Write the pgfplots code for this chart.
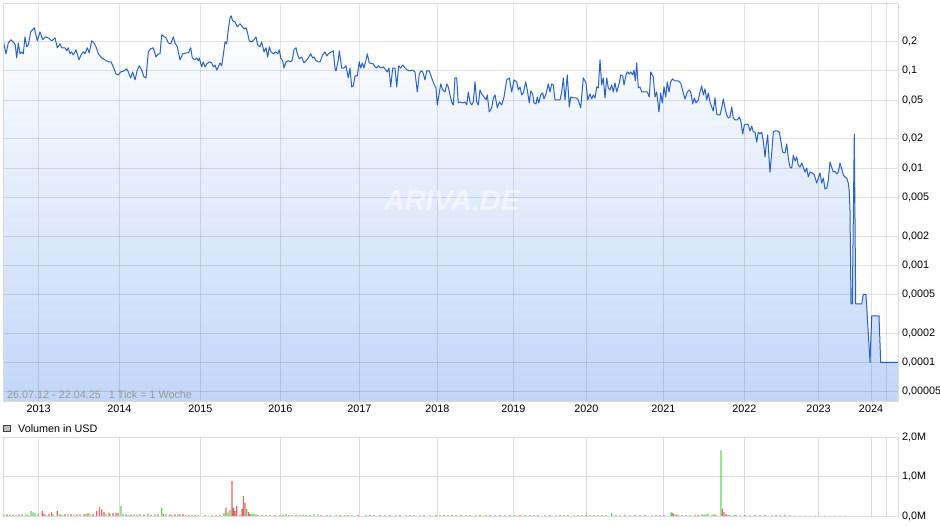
\documentclass[border=0pt]{standalone}
\usepackage{fontspec}
\setmainfont{Liberation Sans}
\usepackage{pgfplots}
\pgfplotsset{compat=1.18}
\usepackage{pgfplotstable}

\definecolor{linec}{HTML}{2A62C6}
\definecolor{fillb}{HTML}{BDD3F7}
\definecolor{gridc}{HTML}{DCDCDC}
\definecolor{volg}{HTML}{5FD35F}
\definecolor{volr}{HTML}{E06666}

\pgfplotstableread{
x y
2.7 0.219
6 0.150
8.3 0.194
11 0.209
14 0.194
15.3 0.185
16.7 0.136
18.3 0.194
20 0.150
21.7 0.157
23.3 0.150
25 0.224
26.7 0.177
28.3 0.185
30.7 0.252
33.3 0.271
34.3 0.2775
37.3 0.204
40 0.252
42.7 0.209
45 0.224
48.3 0.219
51.7 0.204
55 0.219
57.3 0.173
60 0.190
61.7 0.173
65 0.173
66.7 0.161
68.3 0.173
70 0.150
71.7 0.157
73.3 0.146
76 0.165
79 0.130
81 0.146
83.3 0.157
85 0.150
87.3 0.173
89.3 0.153
91.7 0.204
94 0.194
96 0.177
98.3 0.150
101.7 0.136
105 0.130
108.3 0.124
111 0.124
113.3 0.110
116 0.0931
118.3 0.0909
120.7 0.0976
124 0.100
126.7 0.105
128.3 0.0976
130.7 0.0847
132.7 0.0976
135 0.0808
137.3 0.102
139.3 0.113
141.7 0.102
144 0.0867
146 0.0847
148.3 0.157
150.7 0.169
153.3 0.173
156 0.139
158.3 0.150
160 0.150
161.7 0.235
163.3 0.2295
166 0.219
168.3 0.194
170.7 0.190
173.3 0.224
175 0.194
177.3 0.177
180 0.130
182.7 0.150
186 0.153
188.3 0.153
190.7 0.173
192.3 0.136
195 0.130
196.7 0.136
198.3 0.127
199.3 0.136
201.7 0.110
203.3 0.124
205 0.110
206.7 0.118
209.3 0.124
211.7 0.121
213.3 0.110
215 0.115
216.7 0.102
218.3 0.110
220 0.121
221.7 0.113
223.3 0.146
225 0.199
226.7 0.190
228.3 0.265
230 0.352
231 0.369
232.7 0.328
235 0.320
237.3 0.284
240 0.305
241.7 0.291
244 0.271
246 0.2775
247.3 0.252
249.3 0.204
251.7 0.199
254 0.209
256 0.224
257.7 0.185
260 0.177
261.7 0.199
264 0.157
266 0.173
267.7 0.139
269.3 0.177
271 0.157
273.3 0.150
275.7 0.157
277.7 0.150
279.3 0.165
280.7 0.136
282.7 0.127
284 0.107
286 0.124
288.3 0.127
290.7 0.124
292.3 0.130
294 0.165
296 0.173
297.3 0.150
299.3 0.133
301.7 0.139
304 0.121
306 0.127
308.3 0.136
310.7 0.150
312.7 0.136
314 0.139
316 0.127
318.3 0.124
320 0.124
322.7 0.146
325 0.157
326.7 0.143
329.3 0.153
331.7 0.157
333.3 0.161
335 0.107
336 0.100
338.3 0.130
339.3 0.161
341.7 0.107
344 0.107
346 0.113
348.3 0.0847
350 0.107
351.7 0.0684
353.3 0.0700
355 0.0888
357.3 0.0888
359.3 0.124
360.7 0.107
362.3 0.121
364 0.107
366 0.130
367.3 0.150
369.3 0.121
373.3 0.118
375 0.110
376.7 0.107
378.3 0.113
380.7 0.107
383.3 0.110
385 0.105
387.3 0.0976
389 0.107
390.7 0.0684
392.7 0.107
395 0.107
396.7 0.0684
398.7 0.113
400.7 0.107
402.7 0.115
405 0.107
407.3 0.102
410 0.100
412.7 0.102
415 0.0976
417.3 0.0607
419.3 0.0931
421 0.100
422.7 0.0976
425 0.0808
426.7 0.100
429.3 0.100
431.7 0.0847
434 0.0734
436 0.0668
437.3 0.0446
439.3 0.0593
440.7 0.0734
442.7 0.0637
445 0.0607
446.7 0.0734
448.3 0.0684
450 0.0566
451.7 0.0479
453.3 0.0446
455 0.0847
456.7 0.0847
458.3 0.0468
460 0.0479
462.7 0.0468
465 0.0479
466.7 0.0446
468.3 0.0607
470 0.0479
471.7 0.0446
473.3 0.0479
475 0.0770
476.7 0.0479
478.3 0.0446
480 0.0637
481.7 0.0579
484 0.0539
486 0.0502
487.3 0.0566
489.3 0.0378
491.7 0.0416
493.3 0.0527
495 0.0566
497.3 0.0416
499.3 0.0479
501.7 0.0446
504 0.0539
506.7 0.0808
509.3 0.0847
511.7 0.0607
514 0.0808
516.7 0.0770
518.3 0.0637
520 0.0684
521.7 0.0566
523.3 0.0593
525.7 0.0770
527.3 0.0637
529.3 0.0468
530.7 0.0622
532.7 0.0579
534 0.0468
536 0.0457
537.3 0.0539
538.7 0.0468
540.7 0.0566
542.7 0.0593
544 0.0514
546 0.0579
548.3 0.0734
550 0.0607
551.7 0.0734
553.3 0.0717
555 0.0502
557.3 0.0502
560 0.0502
561.7 0.0607
563.3 0.0847
565 0.0502
567.3 0.0909
569.3 0.0426
570.7 0.0539
573.3 0.0527
576 0.0527
578.3 0.0502
580.7 0.0416
583.3 0.0847
586 0.0752
587.7 0.0502
590 0.0579
591.7 0.0514
593.3 0.0566
595 0.0527
596.7 0.0684
598.3 0.0668
600 0.130
601.7 0.0717
603.3 0.0847
605 0.0527
606.7 0.0847
608.3 0.0668
610 0.0637
611.7 0.0717
613.3 0.0607
615 0.0752
616.7 0.0607
619.3 0.0752
620.7 0.0909
622.7 0.0888
624 0.0717
626 0.0909
627.3 0.0976
629.3 0.0931
630.7 0.0976
632.7 0.0909
634 0.102
635.3 0.0789
636.7 0.121
638.3 0.0668
640 0.0684
641.7 0.0607
645 0.0607
647.3 0.0607
649.3 0.0539
650.7 0.0976
653.3 0.0867
655 0.0539
656.7 0.0607
659 0.0378
660.7 0.0593
662.3 0.0468
664 0.0684
665.7 0.0539
667.3 0.0770
669 0.0607
670.7 0.0770
672.3 0.0827
675 0.0789
678.3 0.0789
680.7 0.0752
683.3 0.0593
685 0.0514
687.3 0.0607
689.3 0.0637
690.7 0.0607
692.7 0.0457
694.3 0.0527
696 0.0468
698.3 0.0502
700 0.0607
701.7 0.0700
703.3 0.0566
705 0.0652
706.7 0.0502
708.3 0.0593
710 0.0479
711.7 0.0426
713.3 0.0387
715 0.0527
716.7 0.0361
718.3 0.0352
720 0.0352
721.7 0.0416
723.3 0.0514
725 0.0416
726.7 0.0352
728.3 0.0328
730 0.0336
731.7 0.0426
733.3 0.0328
735 0.0313
737.3 0.0313
739.3 0.0336
741 0.0298
742.7 0.0224
744.3 0.0278
746.7 0.0284
748.3 0.0278
750 0.0241
751.7 0.0271
753.3 0.0235
755 0.0235
756.7 0.0185
758.3 0.0235
760 0.0224
761.7 0.0235
763.3 0.0190
765 0.0130
766 0.0165
767.7 0.0219
769 0.0127
770 0.0091
771.7 0.0143
773.3 0.0235
775 0.0241
777.3 0.0241
779.3 0.0235
780.7 0.0194
782.7 0.0146
785 0.0143
786.7 0.0177
788.3 0.0127
790 0.0102
791.7 0.0100
793.3 0.0136
795 0.0118
796.7 0.0130
798.3 0.0107
800 0.0102
801.7 0.0113
803.3 0.0102
805 0.0091
806.7 0.0100
808.3 0.0081
810 0.0091
812.3 0.0089
814.3 0.0085
816.7 0.0070
818.3 0.0079
820 0.0089
821.7 0.0070
823.3 0.0079
825 0.0061
826.7 0.0062
828.3 0.0075
830 0.0115
831.7 0.0102
833.3 0.0091
835 0.0093
836.7 0.0087
838.3 0.0091
840 0.0113
841.7 0.0098
843.3 0.0085
845 0.0081
846.7 0.0079
848.3 0.0070
849.3 0.0057
850 0.0037
851 0.0004
852.3 0.0004
854.3 0.0224
855.7 0.0004
861.7 0.0004
863.3 0.0005
866 0.0005
870 0.0001
871.7 0.0003
879 0.0003
880.7 0.0001
898 0.0001
}\price

\pgfplotstableread{
x v
4 0.03
10 0.04
16 0.02
22 0.05
26 0.04
31 0.13
33 0.09
35 0.07
38 0.05
46 0.03
53 0.04
62 0.03
68 0.04
74 0.03
80 0.04
86 0.05
90 0.04
106 0.06
110 0.05
121 0.25
123 0.05
128 0.03
134 0.04
140 0.05
148 0.06
155 0.04
161.7 0.20
166 0.04
172 0.03
178 0.04
186 0.03
192 0.03
198 0.03
212 0.03
224 0.07
228 0.09
230 0.15
240 0.04
246.7 0.18
252 0.06
254 0.06
256 0.04
262 0.03
270 0.03
280 0.02
286 0.05
292 0.02
300 0.03
306 0.02
310 0.03
314 0.05
318 0.04
330 0.02
336 0.02
345 0.02
352 0.02
366 0.03
374 0.02
385 0.02
396 0.02
406 0.02
414 0.02
420 0.03
430 0.02
440 0.02
448 0.02
456 0.02
466 0.02
476 0.02
486 0.03
495 0.02
505 0.02
515 0.02
525 0.02
534 0.02
545 0.02
556 0.03
564 0.02
574 0.02
582 0.02
590 0.03
598 0.02
606 0.02
611.7 0.07
620 0.03
630 0.02
640 0.02
652 0.03
660 0.02
671 0.09
672.3 0.08
682 0.03
690 0.02
702 0.05
706 0.04
708 0.06
712 0.03
716 0.03
721 1.66
730 0.02
734 0.03
740 0.02
750 0.02
760 0.02
772 0.03
780 0.02
790 0.02
800 0.01
810 0.01
820 0.01
830 0.01
840 0.01
}\volgreen

\pgfplotstableread{
x v
7 0.04
13 0.03
19 0.04
28 0.03
42.3 0.13
44 0.06
49 0.05
51.7 0.10
57.3 0.13
60 0.04
65 0.05
71 0.05
77 0.04
84 0.05
88 0.07
93 0.05
96.7 0.13
99.3 0.24
101.7 0.17
104 0.10
109 0.08
113 0.07
116 0.08
118 0.08
126 0.04
131 0.04
137 0.03
144 0.04
151 0.03
158 0.04
163.5 0.05
170 0.04
175 0.04
180 0.04
183 0.05
189 0.03
195 0.03
205 0.02
216 0.02
220 0.03
226 0.21
232 0.88
233.5 0.21
235 0.13
236.7 0.25
242 0.18
243.3 0.50
245 0.34
248.5 0.10
250 0.05
258 0.03
266 0.02
275 0.02
283 0.03
289 0.02
296 0.03
303 0.02
321 0.02
327 0.02
340 0.02
348 0.02
358 0.02
370 0.03
380 0.02
390 0.02
400 0.02
410 0.02
424 0.02
436 0.02
444 0.02
452 0.02
461 0.02
470 0.02
480 0.02
490 0.02
500 0.02
510 0.02
520 0.02
530 0.02
538 0.02
550 0.02
560 0.02
568 0.02
578 0.02
586 0.02
594 0.02
602 0.02
616 0.02
625 0.02
635 0.02
645 0.02
656 0.02
664 0.02
673.5 0.06
676 0.04
678 0.03
686 0.02
695 0.02
698 0.03
704 0.03
714 0.04
722.3 0.18
724 0.10
726 0.05
728 0.03
736 0.02
745 0.02
755 0.02
765 0.02
776 0.02
785 0.02
795 0.01
805 0.01
815 0.01
825 0.01
835 0.01
845 0.01
}\volred

\pgfplotsset{
  every tick label/.append style={font=\fontsize{10.8}{13}\selectfont},
}

\begin{document}
\begin{tikzpicture}
\path[use as bounding box] (0pt,0pt) rectangle (940pt,526pt);
\begin{axis}[
  at={(3pt,125pt)}, anchor=south west,
  scale only axis, width=895pt, height=398pt,
  xmin=3, xmax=898,
  ymode=log, ymin=4e-5, ymax=0.5,
  log origin y=infty,
  axis on top,
  axis line style={gridc},
  major tick length=0pt,
  xmajorgrids, ymajorgrids,
  grid style={black, opacity=0.11, line width=0.8pt},
  xtick={38.7,119.3,200.3,280.3,359.3,437.3,513.3,586.3,663.3,744.3,818.5,871},
  xticklabels={2013,2014,2015,2016,2017,2018,2019,2020,2021,2022,2023,2024},
  extra x ticks={886},
  extra x tick labels={},
  extra x tick style={grid=major},
  xticklabel style={anchor=north, inner sep=0pt, yshift=-4pt},
  ytick={0.2,0.1,0.05,0.02,0.01,0.005,0.002,0.001,0.0005,0.0002,0.0001,0.00005},
  yticklabels={{0,2},{0,1},{0,05},{0,02},{0,01},{0,005},{0,002},{0,001},{0,0005},{0,0002},{0,0001},{0,00005}},
  yticklabel pos=right,
  yticklabel style={anchor=west, inner sep=0pt, xshift=4pt},
  minor ytick={},
]
\addplot[draw=none, top color=white, bottom color=fillb, fill opacity=0.92] table {\price} \closedcycle;
\addplot[linec, line width=1pt, line join=round] table {\price};
\end{axis}

\node[anchor=west, text=black!40, font=\fontsize{10.8}{13}\selectfont, inner sep=0pt] at (7pt,131pt) {26.07.12 - 22.04.25\hspace{8pt}1 Tick = 1 Woche};
\node[text=white, opacity=0.55, font=\bfseries\itshape\fontsize{29}{30}\selectfont] at (452pt,325pt) {ARIVA.DE};

\draw[fill=black!25, draw=black!75, line width=0.6pt] (3.5pt,94.5pt) rectangle (10pt,100.5pt);
\node[anchor=west, inner sep=0pt, font=\fontsize{10.8}{13}\selectfont] at (18pt,97.5pt) {Volumen in USD};

\begin{axis}[
  at={(3pt,10pt)}, anchor=south west,
  scale only axis, width=895pt, height=79pt,
  xmin=3, xmax=898, ymin=0, ymax=2,
  axis line style={gridc},
  major tick length=0pt,
  xmajorgrids, ymajorgrids,
  grid style={gridc, line width=0.8pt},
  xtick={38.7,119.3,200.3,280.3,359.3,437.3,513.3,586.3,663.3,744.3,818.5,871,886},
  xticklabels={},
  ytick={0,1,2},
  yticklabels={{0,0M},{1,0M},{2,0M}},
  yticklabel pos=right,
  yticklabel style={anchor=west, inner sep=0pt, xshift=4pt},
]
\addplot[ybar, bar width=1.1pt, bar shift=0pt, fill=volg, draw=none] table {\volgreen};
\addplot[ybar, bar width=1.1pt, bar shift=0pt, fill=volr, draw=none] table {\volred};
\end{axis}
\end{tikzpicture}
\end{document}
